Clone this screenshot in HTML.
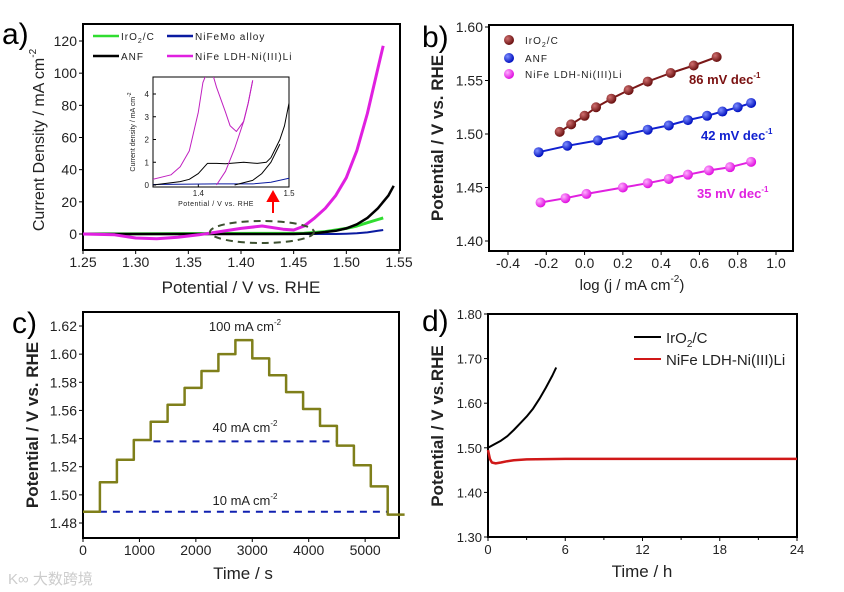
<!DOCTYPE html>
<html><head><meta charset="utf-8"><style>
body{margin:0;background:#fff;}
svg{display:block;font-family:"Liberation Sans",Arial,sans-serif;}
</style></head><body>
<svg id="fig" width="844" height="592" viewBox="0 0 844 592" xmlns="http://www.w3.org/2000/svg">
<defs>
<clipPath id="clipA"><rect x="83" y="24" width="317" height="226"/></clipPath>
<clipPath id="clipIn"><rect x="153" y="77" width="136" height="110"/></clipPath>
<radialGradient id="gBr" cx="35%" cy="35%" r="65%"><stop offset="0" stop-color="#d07070"/><stop offset="1" stop-color="#6a1010"/></radialGradient>
<radialGradient id="gBl" cx="35%" cy="35%" r="65%"><stop offset="0" stop-color="#7f8fff"/><stop offset="1" stop-color="#0010c0"/></radialGradient>
<radialGradient id="gMg" cx="35%" cy="35%" r="65%"><stop offset="0" stop-color="#ffb0ff"/><stop offset="1" stop-color="#e010e0"/></radialGradient>
</defs>
<g id="pa"></g>
<g id="pb"></g>
<g id="pc"></g>
<g id="pd"></g>
<text x="8" y="584" font-size="15" fill="#ccc">K∞ 大数跨境</text>
</svg>
<script>
// ---------- data: panel a ----------
const aMagX=[1.25,1.28,1.30,1.32,1.34,1.36,1.38,1.40,1.42,1.44,1.45,1.46,1.47,1.48,1.49,1.50,1.51,1.52,1.53,1.535];
const aMagY=[0,-0.5,-2.5,-3,-2,-0.5,1.5,3.5,5,3,2.5,5,10,16,24,35,52,75,103,117];
const aBlkX=[1.25,1.45,1.47,1.49,1.50,1.51,1.52,1.53,1.54,1.545];
const aBlkY=[0,0,0.5,2,3.5,6,10,16,24,30];
const aGrnX=[1.25,1.46,1.48,1.50,1.51,1.52,1.53,1.535];
const aGrnY=[0,0.5,1.5,3.5,5,7,9,10];
const aBluX=[1.25,1.49,1.50,1.51,1.52,1.53,1.535];
const aBluY=[0,0,0.2,0.5,1,2,2.5];
const aXTicks=[1.25,1.30,1.35,1.40,1.45,1.50,1.55];
const aYTicks=[0,20,40,60,80,100,120];
// inset
const inMag1X=[1.35,1.37,1.38,1.39,1.40,1.405,1.41];
const inMag1Y=[0.25,0.45,0.8,1.5,3.2,4.5,5];
const inMag2X=[1.415,1.42,1.43,1.435,1.442,1.45,1.455,1.46];
const inMag2Y=[5,4.3,3.2,2.6,2.35,2.8,3.6,4.6];
const inMag3X=[1.42,1.43,1.44,1.45,1.455,1.46];
const inMag3Y=[0,0.6,1.6,2.8,3.6,4.6];
const inBlkX=[1.35,1.38,1.39,1.40,1.41,1.42,1.43,1.45,1.465,1.475,1.48,1.485,1.49,1.495,1.50];
const inBlkY=[0,0.15,0.25,0.5,0.95,0.95,0.93,1.0,0.95,1.0,1.2,1.6,2.0,2.6,3.6];
const inBlk2X=[1.44,1.46,1.47,1.48,1.49];
const inBlk2Y=[0,0.2,0.5,1.0,1.8];
const inBluX=[1.35,1.42,1.46,1.48,1.50];
const inBluY=[0.02,0.05,0.05,0.12,0.3];
// ---------- data: panel b ----------
const bIrX=[-0.13,-0.07,0.0,0.06,0.14,0.23,0.33,0.45,0.57,0.69];
const bIrY=[1.502,1.509,1.517,1.525,1.533,1.541,1.549,1.557,1.564,1.572];
const bAnX=[-0.24,-0.09,0.07,0.2,0.33,0.44,0.54,0.64,0.72,0.8,0.87];
const bAnY=[1.483,1.489,1.494,1.499,1.504,1.508,1.513,1.517,1.521,1.525,1.529];
const bNiX=[-0.23,-0.1,0.01,0.2,0.33,0.44,0.54,0.65,0.76,0.87];
const bNiY=[1.436,1.440,1.444,1.450,1.454,1.458,1.462,1.466,1.469,1.474];
const bXTicks=[-0.4,-0.2,0.0,0.2,0.4,0.6,0.8,1.0];
const bYTicks=[1.40,1.45,1.50,1.55,1.60];
// ---------- data: panel c ----------
const cStepStart=[0,300,600,900,1200,1500,1800,2100,2400,2700,3000,3300,3600,3900,4200,4500,4800,5100,5400];
const cStepLevel=[1.488,1.509,1.525,1.539,1.552,1.564,1.576,1.588,1.600,1.610,1.597,1.585,1.573,1.561,1.549,1.535,1.521,1.506,1.486];
const cStepEnd=5700;
const cXTicks=[0,1000,2000,3000,4000,5000];
const cYTicks=[1.48,1.50,1.52,1.54,1.56,1.58,1.60,1.62];
// ---------- data: panel d ----------
const dIrX=[0,0.5,1,1.5,2,2.5,3,3.5,4,4.5,5,5.3];
const dIrY=[1.500,1.508,1.516,1.526,1.540,1.555,1.570,1.588,1.610,1.635,1.662,1.680];
const dNiX=[0,0.15,0.3,0.6,1,1.5,2,3,6,12,18,24];
const dNiY=[1.495,1.475,1.467,1.465,1.467,1.470,1.472,1.474,1.475,1.475,1.475,1.475];
const dXTicks=[0,6,12,18,24];
const dYTicks=[1.30,1.40,1.50,1.60,1.70,1.80];

const NS="http://www.w3.org/2000/svg";
function mk(parent,tag,attrs,txt){const e=document.createElementNS(NS,tag);for(const k in attrs)e.setAttribute(k,attrs[k]);if(txt!==undefined)e.textContent=txt;parent.appendChild(e);return e;}
function lin(d0,d1,r0,r1){return v=>r0+(v-d0)/(d1-d0)*(r1-r0);}
function pathD(xs,ys,sx,sy){return xs.map((x,i)=>(i?'L':'M')+sx(x).toFixed(1)+','+sy(ys[i]).toFixed(1)).join(' ');}

function axes(g,box,sx,sy,xt,yt,xfmt,yfmt,fs){
  const r=mk(g,'rect',{x:box[0],y:box[1],width:box[2]-box[0],height:box[3]-box[1],fill:'none',stroke:'#000','stroke-width':2});
  
  
  xt.forEach(v=>{const x=sx(v);
    mk(g,'line',{x1:x,y1:box[3],x2:x,y2:box[3]+4,stroke:'#000'});
    const t=mk(g,'text',{x:x,y:box[3]+17,'font-size':fs,'text-anchor':'middle',fill:'#222'},xfmt(v));
    
    });
  yt.forEach(v=>{const y=sy(v);
    mk(g,'line',{x1:box[0]-4,y1:y,x2:box[0],y2:y,stroke:'#000'});
    const t=mk(g,'text',{x:box[0]-6,y:y+5,'font-size':fs,'text-anchor':'end',fill:'#222'},yfmt(v));
    
    });
}
function label(g,x,y,txt,fs,name,rot,extra){
  const a={x:x,y:y,'font-size':fs,'text-anchor':'middle',fill:'#222'};
  if(rot)a.transform='rotate(-90 '+x+' '+y+')';
  if(extra)Object.assign(a,extra);
  const t=mk(g,'text',a);t.innerHTML=txt;
  
  
  return t;
}
function curve(g,xs,ys,sx,sy,color,w,name,clip,dash){
  const a={d:pathD(xs,ys,sx,sy),fill:'none',stroke:color,'stroke-width':w,'stroke-linejoin':'round'};
  if(clip)a['clip-path']='url(#'+clip+')';
  if(dash)a['stroke-dasharray']=dash;
  const p=mk(g,'path',a);
  
  
  return p;
}

// ===== Panel a =====
(function(){
const g=document.getElementById('pa');
const box=[83,24,400,250];
const sx=lin(1.25,1.55,83,399), sy=lin(0,120,234,41);
axes(g,box,sx,sy,aXTicks,aYTicks,v=>v.toFixed(2),v=>String(v),14);
label(g,2,44,'a)',30,'panel-a-label',false,{'text-anchor':'start',fill:'#000'});
label(g,44,140,'Current Density / mA cm<tspan font-size="10" dy="-8">-2</tspan>',16,'y-axis-title',true);
label(g,241,293,'Potential / V vs. RHE',17,'x-axis-title');
curve(g,aBluX,aBluY,sx,sy,'#0a1aa0',2,'series-nifemo','clipA');
curve(g,aGrnX,aGrnY,sx,sy,'#30dd30',3,'series-iro2','clipA');
curve(g,aBlkX,aBlkY,sx,sy,'#000',2.5,'series-anf','clipA');
curve(g,aMagX,aMagY,sx,sy,'#e020e0',3,'series-nife-ldh','clipA');
const el=mk(g,'ellipse',{cx:262,cy:232,rx:52,ry:11,fill:'none',stroke:'#3d5030','stroke-width':2,'stroke-dasharray':'7,5'});


const ar=mk(g,'path',{d:'M273,213 L273,200 M268,201 L273,192 L278,201 Z',stroke:'#f00','stroke-width':2,fill:'#f00'});


[[93,36,'#30dd30','IrO<tspan font-size="7" dy="3">2</tspan><tspan dy="-3">/C</tspan>'],[167,36,'#0a1aa0','NiFeMo alloy'],[93,56,'#000','ANF'],[167,56,'#e020e0','NiFe LDH-Ni(III)Li']].forEach(l=>{
  const ln=mk(g,'line',{x1:l[0],y1:l[1],x2:l[0]+26,y2:l[1],stroke:l[2],'stroke-width':2.5});
  
  
  label(g,l[0]+28,l[1]+4,l[3],10,'legend-entry',false,{'text-anchor':'start','letter-spacing':'1'});
});
const ib=[153,77,289,187];
const ix=lin(1.35,1.5,153,289), iy=lin(0,4,185,94);
const ir=mk(g,'rect',{x:ib[0],y:ib[1],width:ib[2]-ib[0],height:ib[3]-ib[1],fill:'#fff',stroke:'#000','stroke-width':1});


[1.4,1.5].forEach(v=>{mk(g,'line',{x1:ix(v),y1:187,x2:ix(v),y2:184,stroke:'#000'});
  label(g,ix(v),196,String(v),8,'inset-x-tick-label');});
[0,1,2,3,4].forEach(v=>{mk(g,'line',{x1:153,y1:iy(v),x2:156,y2:iy(v),stroke:'#000'});
  label(g,149,iy(v)+3,String(v),8,'inset-y-tick-label',false,{'text-anchor':'end'});});
label(g,216,206,'Potential / V vs. RHE',7,'inset-x-axis-title',false,{'letter-spacing':'0.5'});
label(g,135,132,'Current density / mA cm<tspan font-size="5" dy="-4">-2</tspan>',7,'inset-y-axis-title',true);
curve(g,inBluX,inBluY,ix,iy,'#0a1aa0',1,'inset-nifemo','clipIn');
curve(g,inBlkX,inBlkY,ix,iy,'#000',1,'inset-anf','clipIn');
curve(g,inBlk2X,inBlk2Y,ix,iy,'#000',1,'inset-anf-return','clipIn');
curve(g,inMag1X,inMag1Y,ix,iy,'#c020c0',1,'inset-nife-1','clipIn');
curve(g,inMag2X,inMag2Y,ix,iy,'#c020c0',1,'inset-nife-2','clipIn');
curve(g,inMag3X,inMag3Y,ix,iy,'#c020c0',1,'inset-nife-3','clipIn');
})();

// ===== Panel b =====
(function(){
const g=document.getElementById('pb');
const box=[489,25,793,251];
const sx=lin(-0.4,1.0,508,776), sy=lin(1.40,1.60,241,27);
axes(g,box,sx,sy,bXTicks,bYTicks,v=>v.toFixed(1),v=>v.toFixed(2),14);
label(g,422,47,'b)',30,'panel-b-label',false,{'text-anchor':'start',fill:'#000'});
label(g,443,138,'Potential / V vs. RHE',17,'y-axis-title',true,{'font-weight':'bold'});
label(g,632,290,'log (j / mA cm<tspan font-size="10" dy="-8">-2</tspan><tspan dy="8">)</tspan>',15,'x-axis-title');
const ser=[[bIrX,bIrY,'#7a1818','url(#gBr)','iro2'],[bAnX,bAnY,'#1020d0','url(#gBl)','anf'],[bNiX,bNiY,'#e020e0','url(#gMg)','nife-ldh']];
ser.forEach(s=>{
  const xs=s[0],ys=s[1];
  curve(g,xs,ys,sx,sy,s[2],2,'fit-line-'+s[4]);
  xs.forEach((x,i)=>{const c=mk(g,'circle',{cx:sx(x),cy:sy(ys[i]),r:5,fill:s[3]});
    
    });
});
[[40,'url(#gBr)','IrO<tspan font-size="7" dy="3">2</tspan><tspan dy="-3">/C</tspan>'],[58,'url(#gBl)','ANF'],[74,'url(#gMg)','NiFe LDH-Ni(III)Li']].forEach(l=>{
  const c=mk(g,'circle',{cx:509,cy:l[0],r:5,fill:l[1]});
  
  
  label(g,525,l[0]+4,l[2],10,'legend-entry',false,{'text-anchor':'start','letter-spacing':'1'});
});
label(g,689,84,'86 mV dec<tspan font-size="8" dy="-6">-1</tspan>',13,'slope-iro2',false,{'text-anchor':'start','font-weight':'bold',fill:'#7a1010'});
label(g,701,140,'42 mV dec<tspan font-size="8" dy="-6">-1</tspan>',13,'slope-anf',false,{'text-anchor':'start','font-weight':'bold',fill:'#1020d0'});
label(g,697,198,'35 mV dec<tspan font-size="8" dy="-6">-1</tspan>',13,'slope-nife-ldh',false,{'text-anchor':'start','font-weight':'bold',fill:'#e020e0'});
})();

// ===== Panel c =====
(function(){
const g=document.getElementById('pc');
const box=[83,312,399,538];
const sx=lin(0,5600,83,399), sy=lin(1.48,1.62,523,326);
axes(g,box,sx,sy,cXTicks,cYTicks,v=>String(v),v=>v.toFixed(2),14);
label(g,12,333,'c)',30,'panel-c-label',false,{'text-anchor':'start',fill:'#000'});
label(g,38,425,'Potential / V vs. RHE',17,'y-axis-title',true,{'font-weight':'bold'});
label(g,243,579,'Time / s',17,'x-axis-title');
curve(g,[1250,4500],[1.538,1.538],sx,sy,'#1020b0',2,'ref-40mA',null,'7,6');
curve(g,[300,5400],[1.488,1.488],sx,sy,'#1020b0',2,'ref-10mA',null,'7,6');
let xs=[],ys=[];
cStepStart.forEach((s,i)=>{const e=i+1<cStepStart.length?cStepStart[i+1]:cStepEnd;xs.push(s,e);ys.push(cStepLevel[i],cStepLevel[i]);});
curve(g,xs,ys,sx,sy,'#7f7f1a',2.5,'series-step-potential');
label(g,245,331,'100 mA cm<tspan font-size="8" dy="-6">-2</tspan>',13,'label-100mA');
label(g,245,432,'40 mA cm<tspan font-size="8" dy="-6">-2</tspan>',13,'label-40mA');
label(g,245,505,'10 mA cm<tspan font-size="8" dy="-6">-2</tspan>',13,'label-10mA');
})();

// ===== Panel d =====
(function(){
const g=document.getElementById('pd');
const box=[488,314,797,537];
const sx=lin(0,24,488,797), sy=lin(1.30,1.80,537,314);
axes(g,box,sx,sy,dXTicks,dYTicks,v=>String(v),v=>v.toFixed(2),13);
[3,9,15,21].forEach(v=>mk(g,'line',{x1:sx(v),y1:537,x2:sx(v),y2:540,stroke:'#000'}));
label(g,422,331,'d)',30,'panel-d-label',false,{'text-anchor':'start',fill:'#000'});
label(g,443,426,'Potential / V vs.RHE',17,'y-axis-title',true,{'font-weight':'bold'});
label(g,642,577,'Time / h',17,'x-axis-title');
curve(g,dNiX,dNiY,sx,sy,'#d01818',2.5,'series-nife-ldh');
curve(g,dIrX,dIrY,sx,sy,'#000',2,'series-iro2');
mk(g,'line',{x1:634,y1:337,x2:661,y2:337,stroke:'#000','stroke-width':2});
label(g,666,343,'IrO<tspan font-size="10" dy="4">2</tspan><tspan dy="-4">/C</tspan>',15,'legend-entry',false,{'text-anchor':'start'});
mk(g,'line',{x1:634,y1:359,x2:661,y2:359,stroke:'#d01818','stroke-width':2});
label(g,666,365,'NiFe LDH-Ni(III)Li',15,'legend-entry',false,{'text-anchor':'start'});
})();
</script>
</body></html>
